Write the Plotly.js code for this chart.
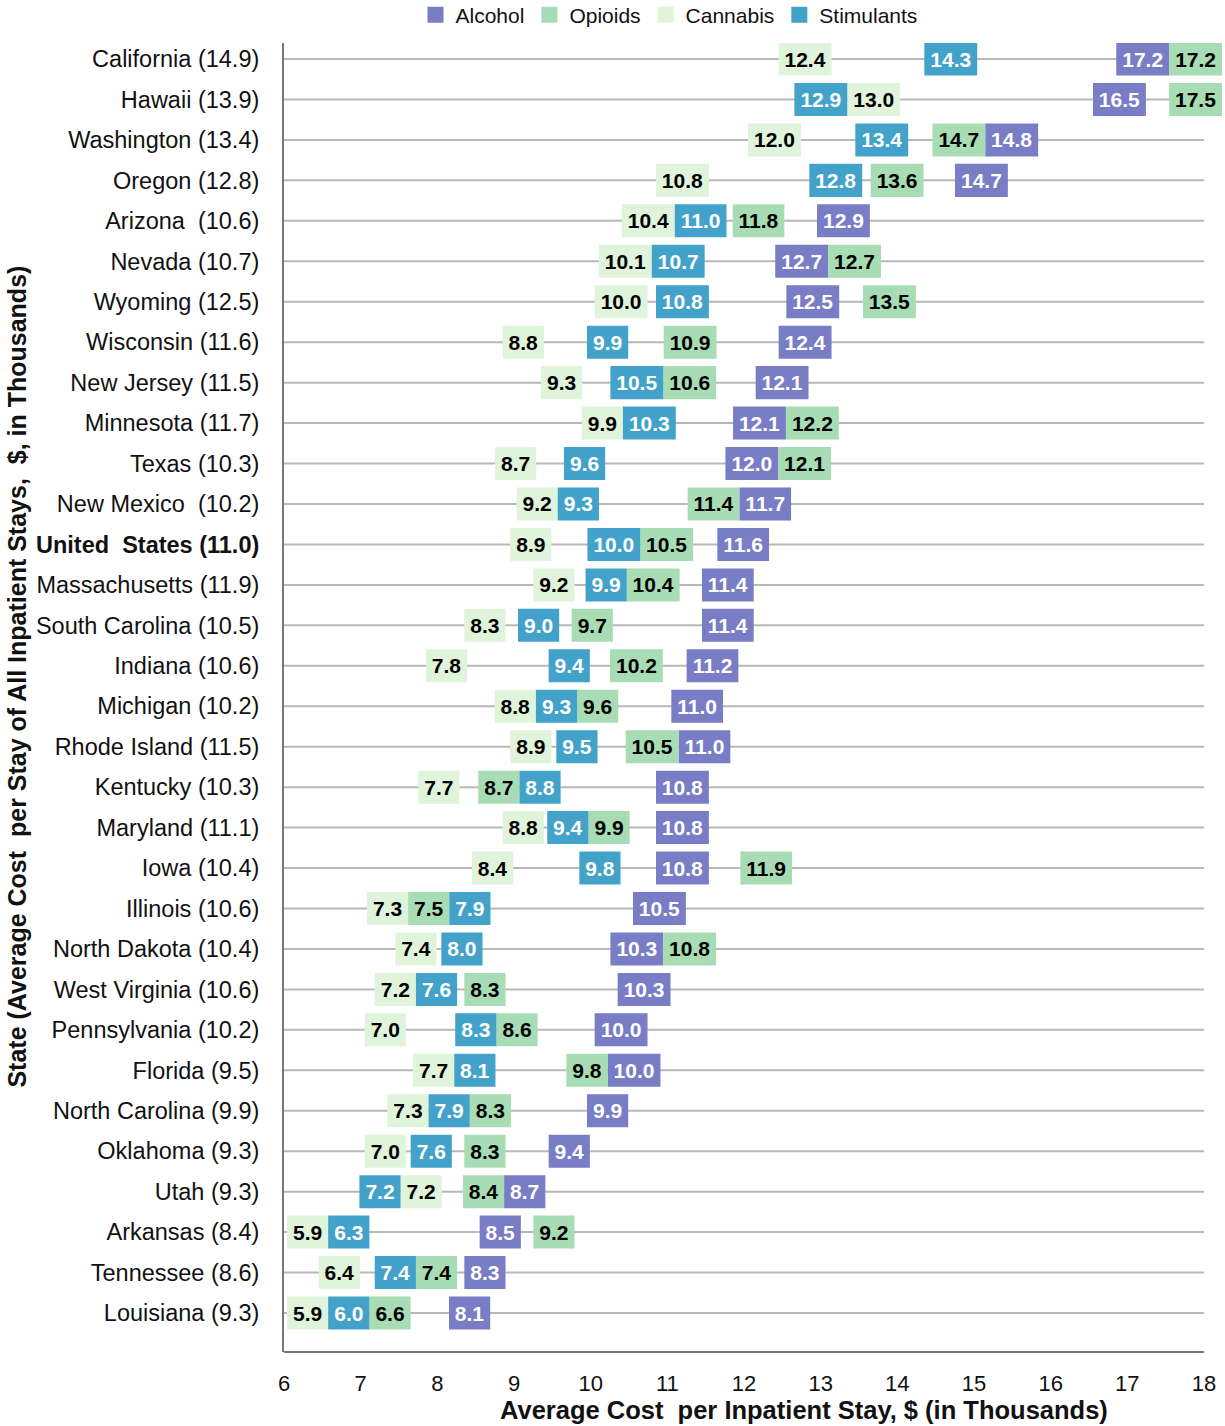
<!DOCTYPE html>
<html><head><meta charset="utf-8">
<script src="https://cdn.plot.ly/plotly-3.0.1.min.js"></script>
<style>html,body{margin:0;padding:0;background:#fff}#chart{width:1225px;height:1426px}</style>
</head><body><div id="chart"></div>
<script>
// ---------- data ----------
const states = ["California","Hawaii","Washington","Oregon","Arizona","Nevada","Wyoming","Wisconsin","New Jersey","Minnesota","Texas","New Mexico","United States","Massachusetts","South Carolina","Indiana","Michigan","Rhode Island","Kentucky","Maryland","Iowa","Illinois","North Dakota","West Virginia","Pennsylvania","Florida","North Carolina","Oklahoma","Utah","Arkansas","Tennessee","Louisiana"];
const overall = [14.9,13.9,13.4,12.8,10.6,10.7,12.5,11.6,11.5,11.7,10.3,10.2,11.0,11.9,10.5,10.6,10.2,11.5,10.3,11.1,10.4,10.6,10.4,10.6,10.2,9.5,9.9,9.3,9.3,8.4,8.6,9.3];
const alcohol = [17.2,16.5,14.8,14.7,12.9,12.7,12.5,12.4,12.1,12.1,12.0,11.7,11.6,11.4,11.4,11.2,11.0,11.0,10.8,10.8,10.8,10.5,10.3,10.3,10.0,10.0,9.9,9.4,8.7,8.5,8.3,8.1];
const opioids = [17.2,17.5,14.7,13.6,11.8,12.7,13.5,10.9,10.6,12.2,12.1,11.4,10.5,10.4,9.7,10.2,9.6,10.5,8.7,9.9,11.9,7.5,10.8,8.3,8.6,9.8,8.3,8.3,8.4,9.2,7.4,6.6];
const cannabis = [12.4,13.0,12.0,10.8,10.4,10.1,10.0,8.8,9.3,9.9,8.7,9.2,8.9,9.2,8.3,7.8,8.8,8.9,7.7,8.8,8.4,7.3,7.4,7.2,7.0,7.7,7.3,7.0,7.2,5.9,6.4,5.9];
const stimulants = [14.3,12.9,13.4,12.8,11.0,10.7,10.8,9.9,10.5,10.3,9.6,9.3,10.0,9.9,9.0,9.4,9.3,9.5,8.8,9.4,9.8,7.9,8.0,7.6,8.3,8.1,7.9,7.6,7.2,6.3,7.4,6.0];
const seriesNames = ["Alcohol","Opioids","Cannabis","Stimulants"];
const xTicks = [6,7,8,9,10,11,12,13,14,15,16,17,18];
const xTitle = "Average Cost\u00a0 per Inpatient Stay, $ (in Thousands)";
const yTitle = "State (Average Cost\u00a0 per Stay of All Inpatient Stays,\u00a0 $, in Thousands)";
const extraSpace = {"Arizona":true,"New Mexico":true};

// ---------- styles ----------
const seriesColors = ["#787dc6","#a8dcb4","#e0f3db","#43a2ca"];
const textColors = ["#ffffff","#000000","#000000","#ffffff"];
const seriesValues = [alcohol, opioids, cannabis, stimulants];
const tiePriority = [1,2,3,0];
const FONT = '"Liberation Sans", Arial, sans-serif';
const W = 1225, H = 1426;
const M = {l:284, r:0, t:43, b:74, autoexpand:false};
const X_MIN = 6, X_MAX = 18;
const gridW = 920;                       // pixel span of the 6..18 scale
const ppu = gridW / (X_MAX - X_MIN);
const plotPxW = W - M.l - M.r;
const X_RANGE_MAX = X_MAX + (plotPxW - gridW) / ppu;
const LABEL_SIZE = 21;

const ctx = document.createElement('canvas').getContext('2d');
ctx.font = 'bold ' + LABEL_SIZE + 'px "Liberation Sans", Arial, sans-serif';
function boxW(t){ return ctx.measureText(t).width + 12; }

// label-box placement (dodge overlapping boxes within a row)
const bases = seriesValues.map(() => new Array(states.length));
const widths = seriesValues.map(() => new Array(states.length));
states.forEach((s, r) => {
  const items = seriesValues.map((vals, k) => {
    const w = boxW(vals[r].toFixed(1));
    return {k, v: vals[r], w, d: Math.max((vals[r] - X_MIN) * ppu + 4, 3)};
  });
  items.sort((a, b) => (a.v - b.v) || (tiePriority[a.k] - tiePriority[b.k]));
  function place(c){
    let off = 0, sum = 0;
    c.items.forEach(it => { sum += it.d - off; off += it.w; });
    c.width = off; c.start = sum / c.items.length;
  }
  let clusters = items.map(it => { const c = {items:[it]}; place(c); return c; });
  let merged = true;
  while (merged) {
    merged = false;
    for (let i = 0; i < clusters.length - 1; i++) {
      const a = clusters[i], b = clusters[i+1];
      if (a.start + a.width > b.start + 0.01) {
        const c = {items: a.items.concat(b.items)}; place(c);
        clusters.splice(i, 2, c); merged = true; break;
      }
    }
  }
  const pos = [], ws = [];
  clusters.forEach(c => { let off = 0; c.items.forEach(it => { pos.push(c.start + off); ws.push(it.w); off += it.w; }); });
  const flat = [].concat(...clusters.map(c => c.items));
  const minL = 3, maxR = gridW + 18;
  for (let i = 0; i < pos.length; i++) {
    pos[i] = Math.max(pos[i], i ? pos[i-1] + ws[i-1] : minL);
  }
  for (let i = pos.length - 1; i >= 0; i--) {
    pos[i] = Math.min(pos[i], i < pos.length - 1 ? pos[i+1] - ws[i] : maxR - ws[i]);
  }
  flat.forEach((it, i) => {
    bases[it.k][r] = X_MIN + pos[i] / ppu;
    widths[it.k][r] = ws[i] / ppu;
  });
});

const traces = [];
seriesNames.forEach((name, k) => {
  traces.push({
    type: 'bar', orientation: 'h', name: name,
    y: states, x: widths[k], base: bases[k], width: 0.816,
    marker: {color: seriesColors[k], line: {width: 0}},
    text: seriesValues[k].map(v => v.toFixed(1)),
    textposition: 'inside', insidetextanchor: 'middle', textangle: 0, constraintext: 'none',
    insidetextfont: {family: FONT, size: LABEL_SIZE, color: textColors[k], weight: 700},
    hoverinfo: 'skip', showlegend: false
  });
});
seriesNames.forEach((name, k) => {
  traces.push({
    type: 'scatter', mode: 'markers', name: name, x: [null], y: [null],
    marker: {symbol: 'square', size: 16, color: seriesColors[k]},
    showlegend: true, hoverinfo: 'skip'
  });
});

const tickText = states.map((s, i) => {
  const sp = extraSpace[s] ? '\u00a0 ' : ' ';
  if (s === 'United States') return '<b>United\u00a0 States (' + overall[i].toFixed(1) + ')</b>';
  return s + sp + '(' + overall[i].toFixed(1) + ')';
});

// horizontal grid lines (one per state) and the bottom axis line, on the 6..18 scale
const shapes = states.map(s => ({
  type: 'line', xref: 'x', yref: 'y', x0: X_MIN, x1: X_MAX, y0: s, y1: s,
  line: {color: '#b8b8b8', width: 2}, layer: 'below'
}));
shapes.push({type: 'line', xref: 'x', yref: 'paper', x0: X_MIN, x1: X_MAX, y0: 0, y1: 0,
  line: {color: '#777777', width: 2}, layer: 'below'});

const layout = {
  width: W, height: H,
  margin: M,
  paper_bgcolor: '#ffffff', plot_bgcolor: '#ffffff',
  font: {family: FONT, color: '#111111'},
  barmode: 'overlay',
  showlegend: true,
  legend: {
    orientation: 'h', x: 131.5 / plotPxW, xanchor: 'left', y: 1.037, yanchor: 'top',
    font: {family: FONT, size: 21, color: '#111111'},
    itemsizing: 'trace',
    bgcolor: 'rgba(0,0,0,0)', traceorder: 'normal'
  },
  xaxis: {
    range: [X_MIN, X_RANGE_MAX], tickvals: xTicks, ticktext: xTicks.map(String),
    showgrid: false, zeroline: false, showline: false,
    ticks: '', ticklabelstandoff: 16, tickfont: {family: FONT, size: 22, color: '#111111'}
  },
  yaxis: {
    type: 'category', categoryorder: 'array', categoryarray: states,
    tickvals: states, ticktext: tickText,
    range: [31.964, -0.396],
    showgrid: false,
    showline: true, linecolor: '#777777', linewidth: 2, zeroline: false,
    ticks: '', ticklabelstandoff: 18, tickfont: {family: FONT, size: 23.5, color: '#111111'}
  },
  shapes: shapes,
  annotations: [
    {text: '<b>' + xTitle + '</b>', xref: 'paper', yref: 'paper', x: 520 / plotPxW, y: -0.0443,
     xanchor: 'center', yanchor: 'middle', showarrow: false,
     font: {family: FONT, size: 25.5, color: '#111111'}},
    {text: '<b>' + yTitle + '</b>', xref: 'paper', yref: 'paper', x: -267 / plotPxW, y: 0.516,
     xanchor: 'center', yanchor: 'middle', showarrow: false, textangle: -90,
     font: {family: FONT, size: 25, color: '#111111'}}
  ]
};

Plotly.newPlot('chart', traces, layout, {displayModeBar: false, staticPlot: true});
</script>
</body></html>
